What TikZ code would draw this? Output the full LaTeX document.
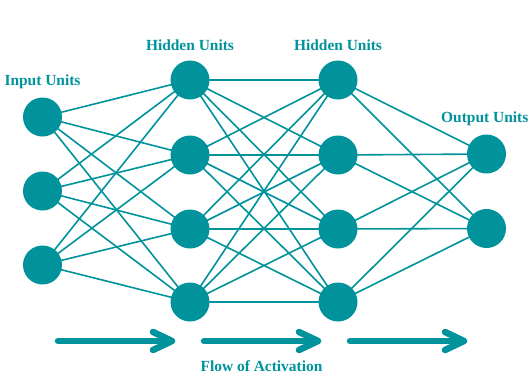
\documentclass[tikz,border=0pt]{standalone}
\usepackage{fontspec}
\setmainfont{Liberation Serif}
\definecolor{teal}{RGB}{0,147,155}
\pgfdeclarelayer{links}
\pgfsetlayers{links,main}
\begin{document}
\begin{tikzpicture}[x=1bp,y=1bp,
  unit/.style={circle,fill=teal,draw=none,minimum size=39bp,inner sep=0pt},
  caption/.style={text=teal,font=\bfseries\fontsize{15.5}{18}\selectfont,inner sep=0pt},
  link/.style={draw=teal,line width=1.6bp},
  flow/.style={draw=teal,line width=6.5bp,line cap=round,line join=round}]
  \useasboundingbox (0,0) rectangle (529,377);

  % input layer
  \node[unit] (i1) at (42.5,260) {};
  \node[unit] (i2) at (42.5,186) {};
  \node[unit] (i3) at (42.5,112) {};
  % first hidden layer
  \node[unit] (a1) at (190,297) {};
  \node[unit] (a2) at (190,222) {};
  \node[unit] (a3) at (190,148) {};
  \node[unit] (a4) at (190,75) {};
  % second hidden layer
  \node[unit] (b1) at (338,297) {};
  \node[unit] (b2) at (338,222) {};
  \node[unit] (b3) at (338,148) {};
  \node[unit] (b4) at (338,75) {};
  % output layer
  \node[unit] (o1) at (486.5,223) {};
  \node[unit] (o2) at (486.5,148.5) {};

  % white sheet and full connections between neighbouring layers, behind the units
  \begin{pgfonlayer}{links}
    \fill[white] (0,0) rectangle (529,377);
    \foreach \s in {i1,i2,i3}
      \foreach \t in {a1,a2,a3,a4}
        \draw[link] (\s.center) -- (\t.center);
    \foreach \s in {a1,a2,a3,a4}
      \foreach \t in {b1,b2,b3,b4}
        \draw[link] (\s.center) -- (\t.center);
    \foreach \s in {b1,b2,b3,b4}
      \foreach \t in {o1,o2}
        \draw[link] (\s.center) -- (\t.center);
  \end{pgfonlayer}

  % layer captions
  \node[caption] (tin) at (42.5,295) {Input Units};
  \node[caption] (th1) at (190,332) {Hidden Units};
  \node[caption] (th2) at (338,332) {Hidden Units};
  \node[caption,anchor=east] (tout) at (528.5,258) {Output Units};

  % flow arrows with open chevron heads
  \foreach \k/\xa/\xb in {1/58/172,2/204/318,3/350/464} {
    \coordinate (f\k s) at (\xa,36);
    \coordinate (f\k e) at (\xb,36);
    \draw[flow] (f\k s) -- (f\k e);
    \draw[flow] ([xshift=-19bp,yshift=9bp]f\k e) -- (f\k e) -- ([xshift=-19bp,yshift=-9bp]f\k e);
  }
  \node[caption] (tflow) at (261.5,11) {Flow of Activation};
\end{tikzpicture}
\end{document}
